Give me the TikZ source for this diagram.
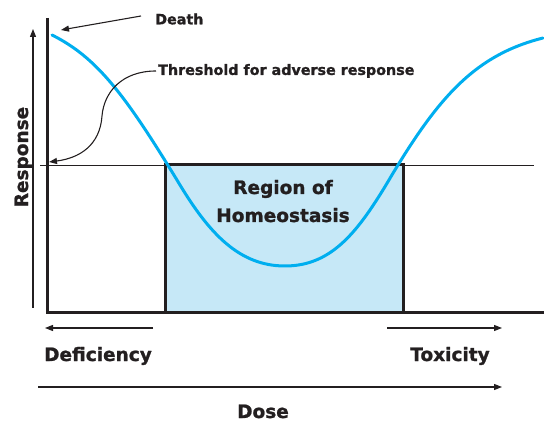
\documentclass[tikz,border=0pt]{standalone}
\usepackage{fontspec}
\setmainfont{DejaVu Sans}
\newfontfamily\heavyfont{DejaVu Sans Bold}[FakeBold=1.2]
\usetikzlibrary{arrows.meta}

\definecolor{inkblack}{HTML}{231F20}
\definecolor{curvecyan}{HTML}{00AEEF}
\definecolor{zonefill}{HTML}{C6E8F7}

\tikzset{
  biglabel/.style={font=\heavyfont\fontsize{18.5}{22}\selectfont, text=inkblack, inner sep=0pt},
  smalllabel/.style={font=\heavyfont\fontsize{14.3}{17}\selectfont, text=inkblack, inner sep=0pt},
  thinarrow/.style={draw=inkblack, line width=1.1pt, -{Triangle[length=8pt,width=6pt]}},
  heavyline/.style={draw=inkblack, line width=3pt},
  thinline/.style={draw=inkblack, line width=0.9pt},
  response/.style={draw=curvecyan, line width=3pt, line cap=round}
}

\begin{document}
\begin{tikzpicture}[x=1pt,y=-1pt]
  \useasboundingbox (0,0) rectangle (544,422);

  % homeostasis zone
  \fill[zonefill] (165,165) rectangle (403,313);

  % threshold level
  \coordinate (thrL) at (40,165);
  \coordinate (thrR) at (534,165);
  \draw[thinline] (thrL) -- (thrR);

  % response axis and dose baseline
  \coordinate (axTop) at (47,18);
  \coordinate (axCorner) at (47,313);
  \coordinate (axEnd) at (544,313);
  \draw[heavyline, line join=miter] (axTop) -- (axCorner) -- (axEnd);

  % zone outline
  \draw[heavyline, line join=miter] (165,313) -- (165,165) -- (403,165) -- (403,313);

  % dose-response curve
  \draw[response] (52,35)
    .. controls (97,57.5) and (125,94.25) .. (180,185)
    .. controls (210,234.5) and (240,266) .. (285,266)
    .. controls (330,266) and (356,234.5) .. (386,185)
    .. controls (436,100) and (473,55.5) .. (543,38);

  % labels
  \node[smalllabel, anchor=west] (death) at (155,19) {Death};
  \node[smalllabel, anchor=west] (thresh) at (158,71) {Threshold for adverse response};
  \node[biglabel, anchor=base] (region) at (283,194) {Region of};
  \node[biglabel, anchor=base] (homeo) at (283,222) {Homeostasis};
  \node[biglabel, anchor=base] (defic) at (98,361) {Deficiency};
  \node[biglabel, anchor=base] (toxic) at (450,361) {Toxicity};
  \node[biglabel, anchor=base] (dose) at (263,418) {Dose};
  \node[biglabel, anchor=base, rotate=90] (resp) at (28,157) {Response};

  % pointers
  \coordinate (deathTip) at (61,30);
  \draw[thinarrow] ([xshift=-14pt,yshift=3pt]death.west) -- (deathTip);

  \coordinate (thrTip) at (49,162);
  \draw[thinarrow] ([xshift=-2pt]thresh.west)
    .. controls (122,71) and (104,92) .. (102,116)
    .. controls (100,145) and (80,158) .. (thrTip);

  % direction arrows
  \coordinate (respBot) at (33,308);
  \coordinate (respTop) at (33,29);
  \draw[thinarrow] (respBot) -- (respTop);

  \coordinate (defStart) at (153,328);
  \coordinate (defEnd) at (45,328);
  \draw[thinarrow] (defStart) -- (defEnd);

  \coordinate (toxStart) at (387,328);
  \coordinate (toxEnd) at (502,328);
  \draw[thinarrow] (toxStart) -- (toxEnd);

  \coordinate (doseStart) at (38,387);
  \coordinate (doseEnd) at (502,387);
  \draw[thinarrow] (doseStart) -- (doseEnd);
\end{tikzpicture}
\end{document}
